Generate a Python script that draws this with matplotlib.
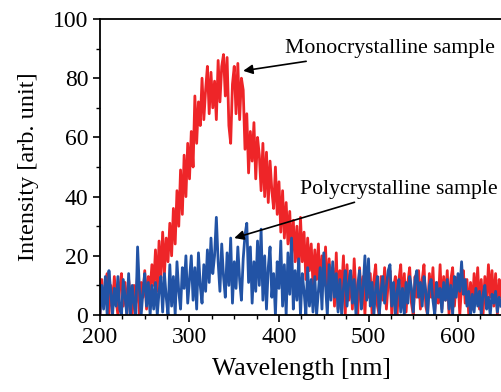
import matplotlib.pyplot as plt
import numpy as np
from matplotlib.ticker import MultipleLocator

plt.rcParams['font.family'] = ['Liberation Serif', 'DejaVu Serif']

# wavelength grid, 2 nm step
wavelength = np.arange(200, 650, 2)

mono = [
    0, 12, 3, 9, 14, 0, 10, 2, 13, 5,
    0, 9, 14, 3, 11, 0, 12, 6, 0, 10,
    4, 14, 0, 11, 6, 15, 2, 13, 8, 17,
    10, 22, 8, 25, 12, 28, 14, 26, 18, 31,
    20, 36, 24, 42, 30, 49, 34, 54, 40, 58,
    46, 62, 50, 74, 58, 72, 64, 80, 66, 76,
    84, 68, 82, 70, 79, 66, 86, 72, 84, 88,
    74, 87, 64, 58, 78, 84, 68, 85, 66, 80,
    76, 56, 68, 48, 62, 52, 65, 46, 60, 54,
    42, 58, 40, 55, 38, 52, 42, 36, 50, 34,
    45, 28, 42, 26, 38, 24, 35, 20, 32, 18,
    30, 14, 33, 18, 28, 12, 26, 15, 24, 10,
    22, 12, 24, 8, 20, 10, 23, 6, 19, 9,
    16, 3, 21, 2, 15, 8, 20, 0, 17, 5,
    14, 2, 19, 7, 0, 16, 4, 13, 0, 15,
    6, 14, 0, 12, 17, 3, 0, 13, 5, 16,
    2, 11, 15, 0, 9, 13, 0, 12, 17, 3,
    14, 1, 11, 16, 4, 0, 13, 6, 15, 2,
    12, 17, 3, 0, 14, 6, 16, 1, 11, 4,
    17, 2, 13, 5, 15, 0, 12, 16, 3, 11,
    13, 0, 10, 15, 4, 12, 0, 11, 2, 14,
    5, 16, 2, 12, 0, 13, 4, 17, 6, 15,
    3, 14, 0, 12, 6,
]

poly = [
    0, 10, 2, 13, 0, 15, 8, 0, 9, 3,
    13, 2, 0, 12, 6, 0, 14, 0, 10, 4,
    0, 23, 9, 0, 8, 14, 3, 11, 0, 10,
    2, 11, 0, 8, 13, 1, 14, 6, 0, 17,
    3, 13, 0, 18, 8, 2, 16, 9, 20, 4,
    12, 20, 5, 16, 2, 21, 10, 4, 17, 8,
    22, 11, 26, 14, 20, 33, 18, 8, 24, 13,
    6, 21, 10, 26, 4, 18, 9, 23, 12, 5,
    19, 27, 31, 11, 23, 4, 18, 8, 25, 10,
    29, 5, 20, 2, 16, 23, 6, 14, 0, 18,
    9, 25, 3, 17, 0, 21, 7, 26, 2, 15,
    5, 19, 0, 14, 8, 0, 16, 3, 12, 1,
    13, 0, 8, 16, 2, 21, 10, 0, 17, 5,
    18, 6, 14, 1, 12, 0, 9, 15, 3, 11,
    15, 4, 12, 0, 10, 15, 2, 9, 20, 5,
    19, 3, 11, 0, 9, 13, 0, 8, 13, 4,
    10, 15, 17, 3, 11, 0, 8, 12, 1, 9,
    0, 11, 4, 13, 9, 1, 12, 15, 6, 11,
    3, 13, 8, 0, 10, 12, 5, 0, 11, 6,
    9, 1, 11, 5, 12, 2, 10, 0, 13, 6,
    14, 8, 18, 7, 12, 3, 8, 0, 7, 1,
    9, 3, 8, 0, 7, 10, 2, 6, 0, 7,
    4, 8, 1, 6, 3,
]

fig = plt.figure(figsize=(5.02, 3.92), dpi=100)
ax = fig.add_axes([0.1992, 0.1964, 0.8023, 0.7551])

ax.plot(wavelength, mono, color='#ee2528', lw=2.0)
ax.plot(wavelength, poly, color='#2253a5', lw=2.0)

ax.set_xlim(200, 650)
ax.set_ylim(0, 100)
ax.xaxis.set_major_locator(MultipleLocator(100))
ax.xaxis.set_minor_locator(MultipleLocator(25))
ax.yaxis.set_major_locator(MultipleLocator(20))
ax.yaxis.set_minor_locator(MultipleLocator(10))
ax.tick_params(which='major', direction='out', length=5, width=1.2, labelsize=17)
ax.tick_params(which='minor', direction='out', length=3, width=1.0)
for s in ax.spines.values():
    s.set_linewidth(1.3)

ax.set_xlabel('Wavelength [nm]', fontsize=18.5, labelpad=7)
ax.set_ylabel('Intensity [arb. unit]', fontsize=17.5, labelpad=10)

ax.annotate('Monocrystalline sample', xy=(360, 82.5), xytext=(407, 90),
            fontsize=15.7, va='center', ha='left',
            arrowprops=dict(arrowstyle='-|>', color='black', lw=1.2,
                            mutation_scale=14, shrinkA=2, shrinkB=0))
ax.annotate('Polycrystalline sample', xy=(350, 26), xytext=(423, 42.5),
            fontsize=15.7, va='center', ha='left',
            arrowprops=dict(arrowstyle='-|>', color='black', lw=1.2,
                            mutation_scale=14, shrinkA=2, shrinkB=0))

fig.savefig('out.png', dpi=100)
